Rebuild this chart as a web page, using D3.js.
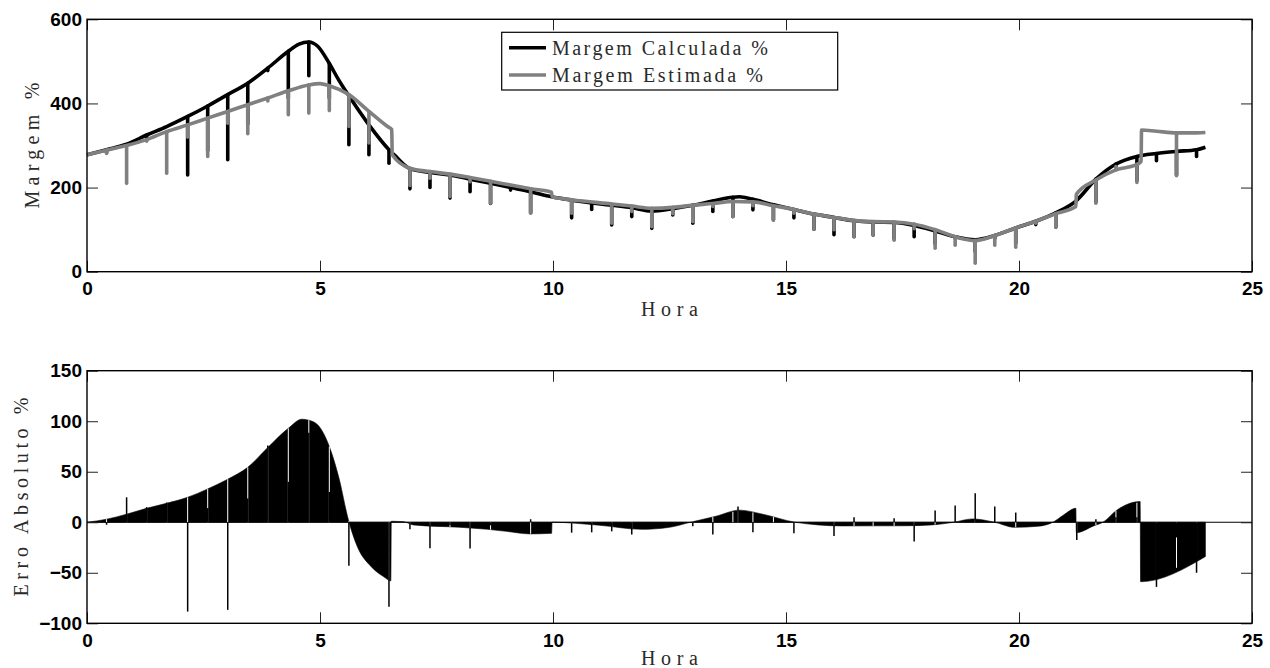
<!DOCTYPE html>
<html>
<head>
<meta charset="utf-8">
<script src="https://cdn.jsdelivr.net/npm/d3@7"></script>
<style>
  body { margin: 0; background: #fff; }
  .lbl { font-family: "Liberation Serif", "Times New Roman", serif; font-size: 20px; fill: #2a2a2a; }
</style>
</head>
<body>
<svg width="1270" height="668"></svg>
<script>
// ---- Data ----
const xTicks = [0, 5, 10, 15, 20, 25];
const topYTicks = [0, 200, 400, 600];
const bottomYTicks = [-100, -50, 0, 50, 100, 150];
const legendLabels = ["Margem Calculada %", "Margem Estimada %"];

// Margem Calculada % (black)
const calcHours = [0, 0.42, 0.85, 1.28, 1.71, 2.16, 2.59, 3.02, 3.45, 3.88, 4.32, 4.55, 4.76, 4.95, 5.2, 5.4, 5.62, 6.05, 6.48, 6.6, 6.93, 7.36, 7.79, 8.22, 8.66, 9.09, 9.52, 9.97, 10.4, 11.26, 11.69, 12.12, 12.57, 13.0, 13.43, 13.86, 14.0, 14.29, 14.73, 15.17, 15.6, 16.03, 16.46, 16.87, 17.32, 17.75, 18.2, 18.63, 19.06, 19.48, 19.93, 20.36, 20.79, 21.22, 21.65, 22.08, 22.53, 22.95, 23.38, 23.81, 24];
const calcValues = [278, 290, 303, 325, 345, 369, 394, 421, 448, 484, 524, 541, 546, 536, 495, 456, 418, 349, 290, 277, 245, 236, 230, 220, 210, 200, 190, 178, 170, 158, 152, 144, 150, 158, 168, 177, 178, 172, 159, 148, 137, 129, 121, 118, 117, 110, 97, 83, 76, 86, 104, 120, 140, 168, 220, 256, 274, 281, 286, 290, 296];

// Margem Estimada % (gray)
const estHours = [0, 0.42, 0.85, 1.28, 1.71, 2.16, 2.59, 3.02, 3.45, 3.88, 4.32, 4.76, 5.0, 5.2, 5.62, 6.05, 6.45, 6.54, 6.55, 6.93, 7.36, 7.79, 8.22, 8.66, 9.09, 9.52, 9.97, 9.98, 10.4, 11.26, 11.69, 12.12, 12.57, 13.0, 13.43, 13.86, 14.29, 14.73, 15.17, 15.6, 16.03, 16.46, 16.87, 17.32, 17.75, 18.2, 18.63, 19.06, 19.48, 19.93, 20.36, 20.79, 21.22, 21.23, 21.65, 22.08, 22.53, 22.62, 22.63, 22.95, 23.38, 23.81, 24];
const estValues = [278, 289, 300, 314, 333, 349, 365, 381, 397, 413, 430, 444, 447, 442, 421, 381, 345, 338, 278, 246, 238, 232, 224, 215, 206, 197, 189, 178, 171, 161, 156, 151, 153, 158, 162, 167, 166, 157, 148, 137, 129, 122, 119, 118, 113, 100, 83, 74, 86, 104, 120, 138, 155, 184, 218, 242, 255, 262, 337, 334, 330, 330, 331];

// Downward spikes in the top plot (null = no visible dip)
const spikeHours = [0.42, 0.85, 1.28, 1.71, 2.16, 2.59, 3.02, 3.45, 3.88, 4.32, 4.76, 5.2, 5.62, 6.05, 6.48, 6.93, 7.36, 7.79, 8.22, 8.66, 9.09, 9.52, 10.4, 10.83, 11.26, 11.69, 12.12, 12.57, 13.0, 13.43, 13.86, 14.29, 14.73, 15.17, 15.6, 16.03, 16.46, 16.87, 17.32, 17.75, 18.2, 18.63, 19.06, 19.48, 19.93, 20.36, 20.79, 21.65, 22.08, 22.53, 22.95, 23.38, 23.81];
const calcDips = [283, null, 318, null, 230, 288, 266, 351, 478, 413, 466, 413, 302, 278, 258, 197, 200, 175, 190, 162, 194, 140, 128, 148, 111, 131, 103, 135, 115, 143, 131, 147, 123, 128, 101, 88, 83, 87, 79, 83, 67, 80, 48, 79, 68, 112, 106, 166, 250, 217, 264, 230, 274];
const estDips = [281, 210, 310, 234, 320, 274, 353, 328, 406, 373, 377, 383, 345, 306, null, 205, 222, 179, 214, 163, null, 139, 139, null, 115, 143, 107, 138, 119, 155, 131, 157, 123, 139, 101, 100, 83, 87, 75, 102, 56, 63, 20, 63, 58, 115, 106, 163, 250, 212, null, 228, null];

// Erro Absoluto % (filled stems)
const errHours = [0, 0.42, 0.85, 1.28, 1.71, 2.16, 2.59, 3.02, 3.45, 3.88, 4.32, 4.61, 4.76, 4.96, 5.2, 5.4, 5.61, 5.8, 6.1, 6.37, 6.52, 6.53, 6.8, 7.0, 8.0, 8.6, 9.0, 9.5, 9.97, 9.98, 11.0, 11.9, 12.5, 12.95, 13.5, 14.0, 14.5, 15.2, 16.2, 17.5, 18.13, 18.6, 19.0, 19.48, 19.9, 20.4, 20.75, 20.95, 21.22, 21.23, 21.6, 21.8, 22.1, 22.6, 22.61, 24];
const errValues = [0, 3, 8, 13.8, 18.8, 24.7, 33, 42.6, 54.4, 74, 93, 102, 101, 96, 75, 45, 2.3, -24, -44, -54, -58, 1, 0.5, -2.6, -5, -7, -9, -11.5, -11, 0, -3, -7, -5, 0, 6, 12, 8, 0, -3.6, -3.5, -2.6, 0, 3.3, 0, -5, -4, 0.6, 7, 13.8, -10.3, -3.6, 0, 12, 20.5, -58.8, -34];

// Single-sample stems that stand out from the filled error
const errSpikeHours = [0.42, 0.85, 1.28, 1.71, 2.16, 2.59, 3.02, 3.45, 3.88, 4.32, 4.76, 5.2, 5.62, 6.48, 6.93, 7.36, 7.79, 8.22, 8.66, 9.52, 10.4, 10.83, 11.26, 11.69, 13.0, 13.43, 13.86, 13.97, 14.29, 14.73, 15.17, 16.03, 16.46, 16.87, 17.32, 17.75, 18.2, 18.63, 19.06, 19.48, 19.93, 21.24, 21.65, 22.08, 22.53, 22.95, 23.38, 23.81];
const errSpikeValues = [-2.5, 24.7, 15, 19.5, -88.4, 14, -86.7, 23.5, 76, 40, 88.7, 30, -43, -83.5, -7, -25.7, -3, -26, -3, 3, -10.3, -10, -9, -12, -4, -12, 0, 15.5, -10, 0, -11, -13.5, 5, 0, 4, -19, 11.6, 16.5, 28.6, 15.5, 9.6, -17.5, 3, 5, 5, -64, -15, -50];

const BLACK = "#000000", GRAY = "#808080";

const svg = d3.select("svg");

// Shared x scale for both panels
const x = d3.scaleLinear().domain([0, 25]).range([87, 1252]);

function drawFrame(y, yTicks, top, bottom) {
    const g = svg.append("g");
    // Bottom/left axes carry the labels; all ticks point inwards (boxed axes)
    g.append("g")
     .attr("transform", `translate(0,${bottom})`)
     .call(d3.axisBottom(x).tickValues(xTicks).tickSizeInner(-11).tickSizeOuter(0).tickPadding(10));
    g.append("g")
     .attr("transform", `translate(0,${top})`)
     .call(d3.axisTop(x).tickValues(xTicks).tickSizeInner(-11).tickSizeOuter(0).tickFormat(""));
    g.append("g")
     .attr("transform", `translate(${x.range()[0]},0)`)
     .call(d3.axisLeft(y).tickValues(yTicks).tickSizeInner(-11).tickSizeOuter(0).tickPadding(5)
              .tickFormat(d => d < 0 ? "\u2212" + Math.abs(d) : d));
    g.append("g")
     .attr("transform", `translate(${x.range()[1]},0)`)
     .call(d3.axisRight(y).tickValues(yTicks).tickSizeInner(-11).tickSizeOuter(0).tickFormat(""));
    g.selectAll(".domain").remove();
    g.selectAll(".tick line").attr("stroke", "#222").attr("stroke-width", 1);
    g.selectAll(".tick text")
     .style("font-family", "'Liberation Sans', Arial, Helvetica, sans-serif")
     .style("font-weight", "bold")
     .style("font-size", "19px")
     .style("fill", "#000");
    g.append("rect")
     .attr("x", x.range()[0]).attr("y", top)
     .attr("width", x.range()[1] - x.range()[0]).attr("height", bottom - top)
     .attr("fill", "none").attr("stroke", "#000").attr("stroke-width", 1.4);
}

function renderTopChart() {
    const y = d3.scaleLinear().domain([0, 600]).range([271.7, 19.3]);
    const series = [
        { hours: calcHours, values: calcValues, dips: calcDips, color: BLACK },
        { hours: estHours, values: estValues, dips: estDips, color: GRAY }
    ];
    const plot = svg.append("g");

    series.forEach(s => {
        const lookup = d3.scaleLinear().domain(s.hours).range(s.values);
        const line = d3.line()
                       .x(i => x(s.hours[i]))
                       .y(i => y(s.values[i]))
                       .curve(d3.curveMonotoneX);
        plot.append("path")
            .attr("d", line(d3.range(s.hours.length)))
            .attr("fill", "none")
            .attr("stroke", s.color)
            .attr("stroke-width", 3.6)
            .attr("stroke-linejoin", "round");
        // The periodic downward dips
        plot.selectAll(null)
            .data(spikeHours.map((h, i) => [h, s.dips[i]]).filter(d => d[1] !== null))
            .join("line")
            .attr("x1", d => x(d[0])).attr("x2", d => x(d[0]))
            .attr("y1", d => y(lookup(d[0]))).attr("y2", d => y(d[1]))
            .attr("stroke", s.color)
            .attr("stroke-width", 3.6)
            .attr("stroke-linecap", "round");
    });

    drawFrame(y, topYTicks, 19.3, 271.7);

    // Legend
    const lg = svg.append("g");
    lg.append("rect")
      .attr("x", 501.7).attr("y", 32.3).attr("width", 336).attr("height", 57.7)
      .attr("fill", "#fff").attr("stroke", "#000").attr("stroke-width", 1.2);
    legendLabels.forEach((t, i) => {
        const ly = 47.7 + i * 27.3;
        lg.append("line")
          .attr("x1", 509).attr("x2", 546).attr("y1", ly).attr("y2", ly)
          .attr("stroke", i === 0 ? BLACK : GRAY).attr("stroke-width", 3.6);
        lg.append("text").attr("class", "lbl")
          .attr("x", 552).attr("y", ly + 7)
          .attr("textLength", i === 0 ? 216 : 211)
          .attr("lengthAdjust", "spacing")
          .text(t);
    });

    svg.append("text").attr("class", "lbl")
       .attr("x", 669.5).attr("y", 316).attr("text-anchor", "middle")
       .attr("textLength", 57).attr("lengthAdjust", "spacing")
       .text("Hora");
    svg.append("text").attr("class", "lbl")
       .attr("transform", "translate(39,145.5) rotate(-90)")
       .attr("text-anchor", "middle")
       .attr("textLength", 126).attr("lengthAdjust", "spacing")
       .text("Margem %");
}

function renderBottomChart() {
    const y = d3.scaleLinear().domain([-100, 150]).range([623.3, 370.7]);
    const lookup = d3.scaleLinear().domain(errHours).range(errValues);
    const plot = svg.append("g");

    // Dense stems drawn as a filled area down to zero
    const area = d3.area()
                   .x(i => x(errHours[i]))
                   .y0(y(0))
                   .y1(i => y(errValues[i]))
                   .curve(d3.curveMonotoneX);
    plot.append("path")
        .attr("d", area(d3.range(errHours.length)))
        .attr("fill", "#000")
        .attr("stroke", "#000")
        .attr("stroke-width", 0.6);

    // Stem baseline
    plot.append("line")
        .attr("x1", x(0)).attr("x2", x(25)).attr("y1", y(0)).attr("y2", y(0))
        .attr("stroke", "#000").attr("stroke-width", 1);

    const spikes = errSpikeHours.map((h, i) => [h, errSpikeValues[i]]);
    // Clear the stem that the single sample replaces
    plot.selectAll(null).data(spikes).join("line")
        .attr("x1", d => x(d[0])).attr("x2", d => x(d[0]))
        .attr("y1", y(0)).attr("y2", d => y(lookup(d[0])))
        .attr("stroke", "#fff").attr("stroke-width", 1);
    plot.selectAll(null).data(spikes).join("line")
        .attr("x1", d => x(d[0])).attr("x2", d => x(d[0]))
        .attr("y1", y(0)).attr("y2", d => y(d[1]))
        .attr("stroke", "#000").attr("stroke-width", 1.5);

    drawFrame(y, bottomYTicks, 370.7, 623.3);

    svg.append("text").attr("class", "lbl")
       .attr("x", 669.5).attr("y", 665).attr("text-anchor", "middle")
       .attr("textLength", 57).attr("lengthAdjust", "spacing")
       .text("Hora");
    svg.append("text").attr("class", "lbl")
       .attr("transform", "translate(28,497) rotate(-90)")
       .attr("text-anchor", "middle")
       .attr("textLength", 199).attr("lengthAdjust", "spacing")
       .text("Erro Absoluto %");
}

renderTopChart();
renderBottomChart();
</script>
</body>
</html>
